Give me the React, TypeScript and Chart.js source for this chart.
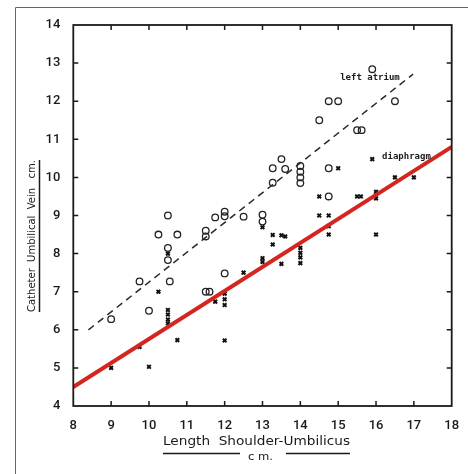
import { useEffect, useRef } from "react";
import { Chart, registerables } from "chart.js";

Chart.register(...registerables);

// ---- tick labels ----
const xTicks = [8, 9, 10, 11, 12, 13, 14, 15, 16, 17, 18];
const yTicks = [4, 5, 6, 7, 8, 9, 10, 11, 12, 13, 14];

// ---- left atrium (circles) ----
const atriumX = [9.0, 9.75, 10.0, 10.25, 10.5, 10.5, 10.5, 10.55, 10.75, 11.5, 11.5, 11.5, 11.6, 11.75, 12.0, 12.0, 12.0, 12.5, 13.0, 13.0, 13.27, 13.27, 13.5, 13.6, 14.0, 14.0, 14.0, 14.0, 14.5, 14.75, 15.0, 15.5, 15.62, 15.9, 16.5, 14.75, 14.75];
const atriumY = [6.28, 7.27, 6.5, 8.5, 9.0, 8.15, 7.83, 7.27, 8.5, 8.6, 8.45, 7.0, 7.0, 8.95, 9.1, 8.98, 7.48, 8.97, 9.02, 8.84, 9.86, 10.24, 10.48, 10.22, 10.3, 10.15, 10.0, 9.85, 11.5, 12.0, 12.0, 11.24, 11.24, 12.84, 12.0, 10.24, 9.5];

// ---- diaphragm (crosses) ----
const diaphragmX = [9.0, 9.75, 10.0, 10.25, 10.5, 10.5, 10.5, 10.5, 10.5, 10.75, 11.75, 12.0, 12.0, 12.0, 12.0, 12.5, 13.0, 13.0, 13.0, 13.27, 13.27, 13.5, 13.6, 13.5, 14.0, 14.0, 14.0, 14.0, 14.5, 14.5, 14.75, 14.75, 14.75, 15.0, 15.5, 15.6, 15.9, 16.0, 16.0, 16.0, 16.5, 17.0];
const diaphragmY = [5.0, 5.55, 5.03, 7.0, 8.0, 6.52, 6.4, 6.27, 6.17, 5.73, 6.74, 6.95, 6.8, 6.65, 5.72, 7.5, 8.69, 7.88, 7.78, 8.49, 8.24, 8.48, 8.45, 7.73, 8.15, 8.02, 7.9, 7.75, 9.5, 9.0, 9.0, 8.72, 8.5, 10.24, 9.5, 9.5, 10.48, 9.62, 9.45, 8.5, 10.0, 10.0];

// ---- fitted lines ----
const atriumFitX = [8.4, 16.98];
const atriumFitY = [6.0, 12.71];
const diaphragmFitX = [8, 18];
const diaphragmFitY = [4.5, 10.8];

const pts = (xs: number[], ys: number[]) => xs.map((x, i) => ({ x, y: ys[i] }));

const drawStretched = (
  ctx: CanvasRenderingContext2D,
  text: string,
  cx: number,
  cy: number,
  width: number,
  font: string,
  rotate: boolean
) => {
  ctx.save();
  ctx.font = font;
  ctx.textAlign = "center";
  ctx.textBaseline = "middle";
  const m = ctx.measureText(text).width;
  ctx.translate(cx, cy);
  if (rotate) ctx.rotate(-Math.PI / 2);
  ctx.scale(width / m, 1);
  ctx.fillText(text, 0, 0);
  ctx.restore();
};

const framePlugin = {
  id: "framePlugin",
  afterDraw(chart: any) {
    const { ctx, chartArea } = chart;
    const { left, right, top, bottom } = chartArea;
    const xs = chart.scales.x;
    const ys = chart.scales.y;
    ctx.save();
    // outer page frame
    ctx.strokeStyle = "#666";
    ctx.lineWidth = 1;
    ctx.beginPath();
    ctx.moveTo(15.5, 474);
    ctx.lineTo(15.5, 7.5);
    ctx.lineTo(468, 7.5);
    ctx.stroke();

    // plot border
    ctx.strokeStyle = "#1a1a1a";
    ctx.lineWidth = 1.8;
    ctx.strokeRect(left, top, right - left, bottom - top);
    // inward ticks
    ctx.lineWidth = 1.5;
    ctx.beginPath();
    xTicks.slice(1, -1).forEach((v) => {
      const p = xs.getPixelForValue(v);
      ctx.moveTo(p, bottom);
      ctx.lineTo(p, bottom - 5);
      ctx.moveTo(p, top);
      ctx.lineTo(p, top + 5);
    });
    yTicks.slice(1, -1).forEach((v) => {
      const p = ys.getPixelForValue(v);
      ctx.moveTo(left, p);
      ctx.lineTo(left + 5, p);
      ctx.moveTo(right, p);
      ctx.lineTo(right - 5, p);
    });
    ctx.stroke();

    // annotations
    ctx.fillStyle = "#1a1a1a";
    ctx.font = "bold 9px 'DejaVu Sans Mono'";
    ctx.textBaseline = "middle";
    ctx.textAlign = "center";
    ctx.fillText("left atrium", xs.getPixelForValue(15.84), ys.getPixelForValue(12.61));
    ctx.textAlign = "left";
    ctx.fillText("diaphragm", xs.getPixelForValue(16.16), ys.getPixelForValue(10.54));

    // x title
    drawStretched(ctx, "Length  Shoulder-Umbilicus", 256.5, 441.5, 187, "12px 'DejaVu Sans'", false);
    drawStretched(ctx, "c m.", 260.5, 457, 25, "11px 'DejaVu Sans'", false);
    ctx.lineWidth = 1.5;
    ctx.beginPath();
    ctx.moveTo(163, 453.5);
    ctx.lineTo(240, 453.5);
    ctx.moveTo(286, 453.5);
    ctx.lineTo(350, 453.5);
    ctx.stroke();

    // y title
    drawStretched(ctx, "Catheter  Umbilical  Vein   cm.", 32.5, 236, 152, "11px 'DejaVu Sans'", true);
    ctx.beginPath();
    ctx.moveTo(39.5, 160);
    ctx.lineTo(39.5, 312);
    ctx.stroke();
    ctx.restore();
  },
};

export default function App() {
  const ref = useRef<HTMLCanvasElement | null>(null);
  useEffect(() => {
    document.body.style.margin = "0";
    if (!ref.current) return;
    const tickFont = { family: "Roboto", size: 13, weight: 500 as any };
    const chart = new Chart(ref.current, {
      type: "scatter",
      data: {
        datasets: [
          {
            type: "line",
            label: "diaphragm fit",
            data: pts(diaphragmFitX, diaphragmFitY),
            borderColor: "#d3261f",
            borderWidth: 4,
            pointRadius: 0,
            order: 0,
          },
          {
            type: "line",
            label: "left atrium fit",
            data: pts(atriumFitX, atriumFitY),
            borderColor: "#2a2a2a",
            borderWidth: 1.5,
            borderDash: [7, 5],
            pointRadius: 0,
            order: 1,
          },
          {
            label: "left atrium",
            data: pts(atriumX, atriumY),
            pointStyle: "circle",
            pointRadius: 3.3,
            borderColor: "#222",
            borderWidth: 1.3,
            backgroundColor: "rgba(0,0,0,0)",
            order: 2,
          },
          {
            label: "diaphragm",
            data: pts(diaphragmX, diaphragmY),
            pointStyle: "crossRot",
            pointRadius: 2.6,
            borderColor: "#111",
            borderWidth: 2,
            order: 2,
          },
        ],
      } as any,
      options: {
        animation: false,
        responsive: false,
        layout: { padding: { left: 0, top: 25, right: 16.3, bottom: 0 } },
        plugins: { legend: { display: false }, tooltip: { enabled: false } },
        scales: {
          x: {
            type: "linear",
            min: 8,
            max: 18,
            grid: { display: false },
            border: { display: false },
            afterBuildTicks: (axis: any) => {
              axis.ticks = xTicks.map((v) => ({ value: v }));
            },
            afterFit: (s: any) => {
              s.height = 68;
            },
            ticks: { font: tickFont, color: "#1a1a1a", padding: 4, maxRotation: 0 },
          },
          y: {
            type: "linear",
            min: 4,
            max: 14,
            grid: { display: false },
            border: { display: false },
            afterBuildTicks: (axis: any) => {
              axis.ticks = yTicks.map((v) => ({ value: v }));
            },
            afterFit: (s: any) => {
              s.width = 73.3;
            },
            ticks: { font: tickFont, color: "#1a1a1a", padding: 5 },
          },
        },
      } as any,
      plugins: [framePlugin],
    });
    return () => chart.destroy();
  }, []);
  return (
    <div style={{ position: "fixed", left: 0, top: 0, width: 468, height: 474, background: "#fff" }}>
      <canvas ref={ref} width={468} height={474} style={{ width: 468, height: 474 }} />
    </div>
  );
}
